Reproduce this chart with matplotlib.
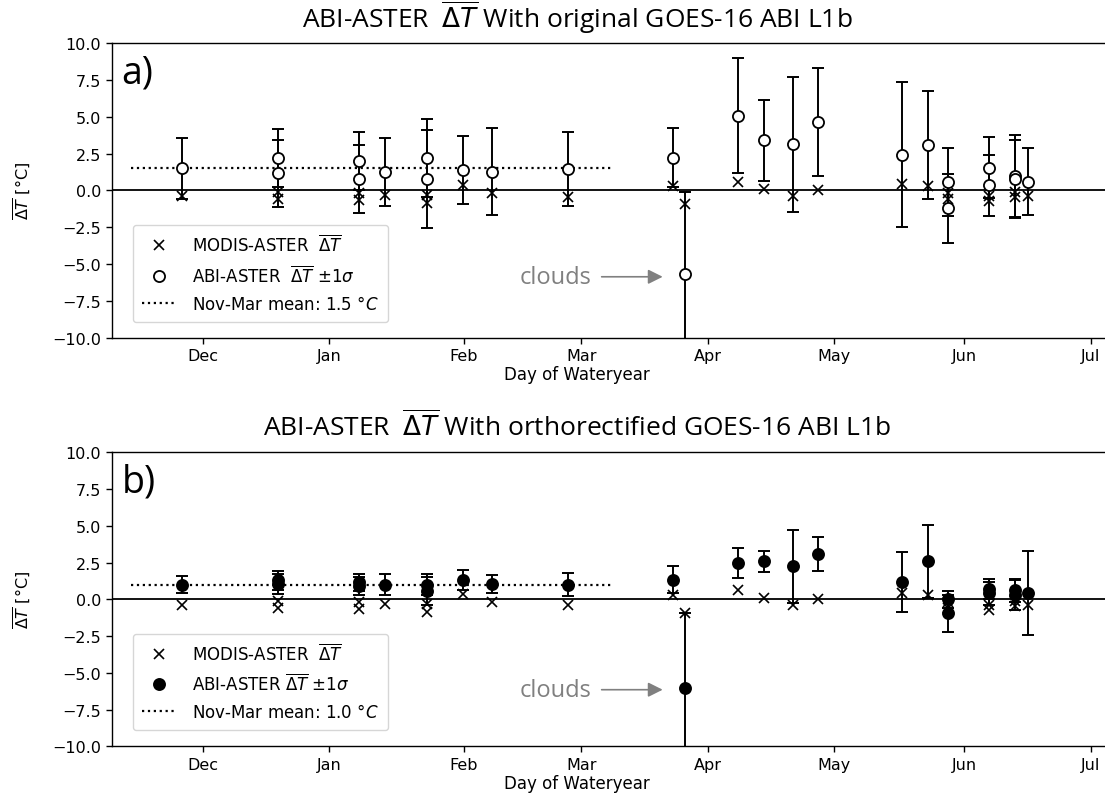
import matplotlib
matplotlib.use("Agg")
import matplotlib.pyplot as plt
from matplotlib.lines import Line2D
import numpy as np

# ---------------- data ----------------
# day of water year (Oct 1 = day 1)
abi_day = [58.2, 81.0, 81.0, 100.1, 100.1, 106.3, 116.2, 116.2, 124.8, 131.7, 149.9,
           174.7, 177.6, 190.3, 196.4, 203.3, 209.3, 229.1, 235.3, 240.2, 240.2,
           249.9, 249.9, 255.9, 255.9, 259.0]
modis_dT = [-0.37, -0.1, -0.6, -0.2, -0.65, -0.3, -0.3, -0.85, 0.38, -0.15, -0.42,
            0.27, -0.95, 0.6, 0.08, -0.38, 0.05, 0.44, 0.27, -0.2, -0.6,
            -0.4, -0.7, -0.1, -0.45, -0.37]
# a) original L1b
abi_orig_dT = [1.5, 2.21, 1.15, 1.98, 0.79, 1.27, 2.21, 0.79, 1.4, 1.26, 1.44,
               2.23, -5.64, 5.05, 3.4, 3.14, 4.64, 2.43, 3.1, 0.58, -1.2,
               1.55, 0.35, 0.95, 0.8, 0.58]
abi_orig_sd = [2.05, 1.97, 2.3, 1.97, 2.32, 2.3, 2.64, 3.34, 2.3, 2.95, 2.5,
               1.97, 5.54, 3.9, 2.75, 4.58, 3.66, 4.92, 3.65, 2.32, 2.34,
               2.08, 2.08, 2.8, 2.6, 2.27]
# b) orthorectified L1b
abi_ortho_dT = [0.99, 1.3, 1.05, 1.15, 0.9, 0.99, 1.0, 0.55, 1.31, 1.04, 0.99,
                1.34, -6.0, 2.47, 2.58, 2.24, 3.08, 1.2, 2.58, 0.0, -0.95,
                0.7, 0.4, 0.6, 0.3, 0.43]
abi_ortho_sd = [0.58, 0.65, 0.67, 0.57, 0.6, 0.73, 0.72, 0.95, 0.7, 0.61, 0.77,
                0.9, 5.1, 1.03, 0.7, 2.5, 1.16, 2.05, 2.5, 0.58, 1.25,
                0.7, 0.8, 0.8, 1.0, 2.85]
mean_orig = 1.5
mean_ortho = 1.0
mean_span = [46, 160]   # Nov-Mar mean line extent (day of water year)

month_ticks = [63, 93, 125, 153, 183, 213, 244, 274]
month_labels = ["Dec", "Jan", "Feb", "Mar", "Apr", "May", "Jun", "Jul"]

titles = ["ABI-ASTER  $\\overline{\\Delta T}$ With original GOES-16 ABI L1b",
          "ABI-ASTER  $\\overline{\\Delta T}$ With orthorectified GOES-16 ABI L1b"]
panel_letters = ["a)", "b)"]

# ---------------- figure ----------------
W, H = 1105, 803
fig = plt.figure(figsize=(W / 100, H / 100), dpi=100)
plt.rcParams["mathtext.fontset"] = "dejavusans"

def px_axes(x0, y0, x1, y1):
    return fig.add_axes([x0 / W, 1 - y1 / H, (x1 - x0) / W, (y1 - y0) / H])

ax_a = px_axes(111.7, 44.0, 1116, 338.8)
ax_b = px_axes(111.7, 453.3, 1116, 747.3)

title_font = "Open Sans"

panels = [
    (ax_a, abi_orig_dT, abi_orig_sd, mean_orig, "white"),
    (ax_b, abi_ortho_dT, abi_ortho_sd, mean_ortho, "black"),
]

for i, (ax, vals, sds, mval, face) in enumerate(panels):
    ax.axhline(0, color="black", lw=1.3, zorder=1)
    ax.plot(mean_span, [mval, mval], color="black", ls=":", lw=1.6, zorder=1.5)
    ax.errorbar(abi_day, vals, yerr=sds, fmt="none", ecolor="black",
                elinewidth=1.4, capsize=4, capthick=1.4, zorder=2)
    ax.plot(abi_day, modis_dT, ls="none", marker="x", color="black",
            ms=7, mew=1.2, zorder=2.5)
    ax.plot(abi_day, vals, ls="none", marker="o", mfc=face, mec="black",
            ms=8, mew=1.3, zorder=3)

    ax.set_xlim(41.4, 280.0)
    ax.set_ylim(-10, 10)
    ax.set_yticks(np.arange(-10, 10.01, 2.5))
    ax.set_yticklabels([f"{v:.1f}".replace("-", "\u2212") for v in np.arange(-10, 10.01, 2.5)])
    ax.set_xticks(month_ticks)
    ax.set_xticklabels(month_labels)
    ax.tick_params(labelsize=11.5, length=4, width=1)
    for s in ax.spines.values():
        s.set_linewidth(1.0)
    ax.spines["right"].set_visible(False)
    ax.set_xlabel("Day of Wateryear", fontsize=12)
    ax.xaxis.set_label_coords(0.463, -0.093)
    ax.set_ylabel("$\\overline{\\Delta T}$ [°C]", fontsize=11.5)
    ax.yaxis.set_label_coords(-0.078, 0.5)

    lab = "ABI-ASTER  $\\overline{\\Delta T}$ $\\pm 1\\sigma$" if i == 0 else \
          "ABI-ASTER $\\overline{\\Delta T}$ $\\pm 1\\sigma$"
    handles = [
        Line2D([], [], ls="none", marker="x", color="black", ms=7, mew=1.2),
        Line2D([], [], ls="none", marker="o", mfc=face, mec="black", ms=8, mew=1.3),
        Line2D([], [], ls=":", color="black", lw=1.6),
    ]
    labels = ["MODIS-ASTER  $\\overline{\\Delta T}$", lab,
              f"Nov-Mar mean: {mval:.1f} $°C$"]
    ax.legend(handles, labels, loc="lower left", bbox_to_anchor=(0.021, 0.054),
              borderaxespad=0, fontsize=12, handlelength=2.0, labelspacing=0.55,
              borderpad=0.55, handletextpad=1.0)

    ax.text(0.010, 0.90, panel_letters[i], transform=ax.transAxes, fontsize=27,
            family=title_font, va="center", ha="left")

    cy = -5.86 if i == 0 else -6.15
    ax.annotate("", xy=(172.3, cy), xytext=(157.8, cy),
                arrowprops=dict(arrowstyle="-|>", color="gray", lw=1.2,
                                mutation_scale=22, shrinkA=0, shrinkB=0))
    ax.text(155.3, cy, "clouds", color="gray", fontsize=17, family=title_font,
            ha="right", va="center")

fig.text(577 / W, 1 - 18 / H, titles[0], fontsize=19, family=title_font,
         ha="center", va="center")
fig.text(577 / W, 1 - 426 / H, titles[1], fontsize=19, family=title_font,
         ha="center", va="center")

fig.savefig("out.png", dpi=100)
